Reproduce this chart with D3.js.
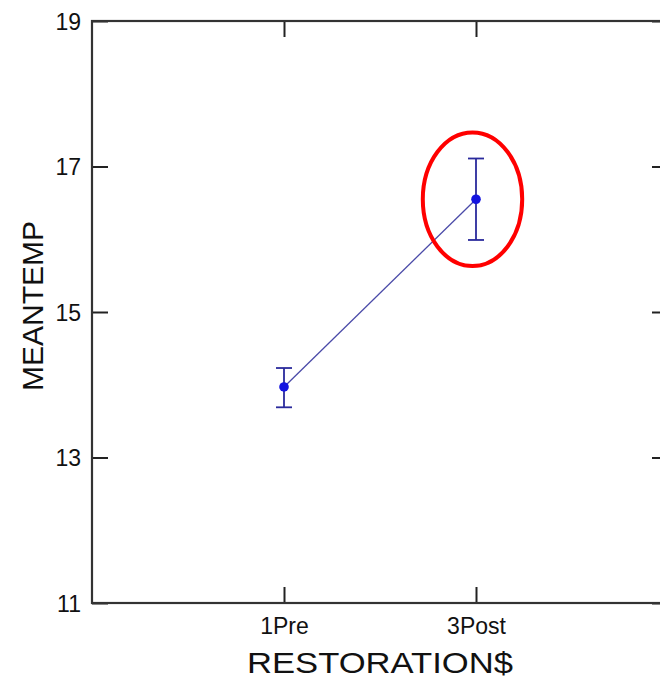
<!DOCTYPE html>
<html>
<head>
<meta charset="utf-8">
<script src="https://cdn.jsdelivr.net/npm/d3@7"></script>
<style>
  html, body { margin: 0; padding: 0; background: #fff; }
  svg { display: block; }
  text { font-family: Arial, "Liberation Sans", sans-serif; fill: #111; }
</style>
</head>
<body>
<script>
// Group means of MEANTEMP by restoration period, with error bars
const categories = ["1Pre", "3Post"];
const means = [13.97, 16.55];
const lower = [13.69, 15.99];
const upper = [14.23, 17.11];
const yTicks = [11, 13, 15, 17, 19];
const highlighted = ["3Post"];

const W = 660, H = 679;
const frame = { left: 92, top: 21, right: 668, bottom: 603 };

const svg = d3.select("body").append("svg")
  .attr("width", W).attr("height", H);

const x = d3.scalePoint()
  .domain(categories)
  .range([frame.left, frame.right])
  .padding(1);

const y = d3.scaleLinear()
  .domain([11, 19])
  .range([frame.bottom, frame.top]);

const axisColor = "#333";
const tickLen = 16;

// Frame: axes on all four sides with inward ticks
const gLeft = svg.append("g").attr("transform", `translate(${frame.left},0)`)
  .call(d3.axisLeft(y).tickValues(yTicks).tickSize(-tickLen).tickPadding(11).tickFormat(d3.format("d")));
const gRight = svg.append("g").attr("transform", `translate(${frame.right},0)`)
  .call(d3.axisRight(y).tickValues(yTicks).tickSize(-tickLen).tickFormat(""));
const gBottom = svg.append("g").attr("transform", `translate(0,${frame.bottom})`)
  .call(d3.axisBottom(x).tickSize(-tickLen).tickPadding(15));
const gTop = svg.append("g").attr("transform", `translate(0,${frame.top})`)
  .call(d3.axisTop(x).tickSize(-tickLen).tickFormat(""));

[gLeft, gRight, gBottom, gTop].forEach(g => {
  g.selectAll(".tick line").attr("stroke", "#222").attr("stroke-width", 2);
  g.selectAll(".tick text")
    .style("font-family", "Arial, 'Liberation Sans', sans-serif")
    .attr("font-size", 23).attr("fill", "#111");
});
svg.selectAll(".domain").remove();

// Plot frame spanning the whole area
svg.append("rect")
  .attr("x", frame.left).attr("y", frame.top)
  .attr("width", frame.right - frame.left)
  .attr("height", frame.bottom - frame.top)
  .attr("fill", "none").attr("stroke", axisColor).attr("stroke-width", 2.2);

gLeft.selectAll(".tick text").attr("dy", "0.36em");

// Axis titles
svg.append("text")
  .attr("x", (frame.left + frame.right) / 2)
  .attr("y", 673)
  .attr("text-anchor", "middle")
  .attr("font-size", 30)
  .attr("textLength", 266)
  .attr("lengthAdjust", "spacingAndGlyphs")
  .text("RESTORATION$");

svg.append("text")
  .attr("transform", "translate(43,306) rotate(-90)")
  .attr("text-anchor", "middle")
  .attr("font-size", 30)
  .text("MEANTEMP");

// Connecting line between means
const line = d3.line()
  .x((d, i) => x(categories[i]))
  .y(d => y(d));
svg.append("path")
  .datum(means)
  .attr("d", line)
  .attr("fill", "none")
  .attr("stroke", "#4a4aa8")
  .attr("stroke-width", 1.3);

// Error bars
const capHalf = 8;
const bars = svg.append("g").attr("stroke", "#2a2a9c").attr("stroke-width", 1.8);
categories.forEach((c, i) => {
  const cx = x(c);
  bars.append("line").attr("x1", cx).attr("x2", cx)
    .attr("y1", y(lower[i])).attr("y2", y(upper[i]));
  bars.append("line").attr("x1", cx - capHalf).attr("x2", cx + capHalf)
    .attr("y1", y(upper[i])).attr("y2", y(upper[i]));
  bars.append("line").attr("x1", cx - capHalf).attr("x2", cx + capHalf)
    .attr("y1", y(lower[i])).attr("y2", y(lower[i]));
});

// Mean markers
svg.append("g").selectAll("circle")
  .data(means)
  .join("circle")
  .attr("cx", (d, i) => x(categories[i]))
  .attr("cy", d => y(d))
  .attr("r", 4.8)
  .attr("fill", "#1414e0");

// Highlight ring around the selected group
highlighted.forEach(c => {
  const i = categories.indexOf(c);
  svg.append("ellipse")
    .attr("cx", x(c) - 3.5)
    .attr("cy", y(means[i]))
    .attr("rx", 49.7)
    .attr("ry", 66.8)
    .attr("fill", "none")
    .attr("stroke", "#ff0000")
    .attr("stroke-width", 4);
});
</script>
</body>
</html>
